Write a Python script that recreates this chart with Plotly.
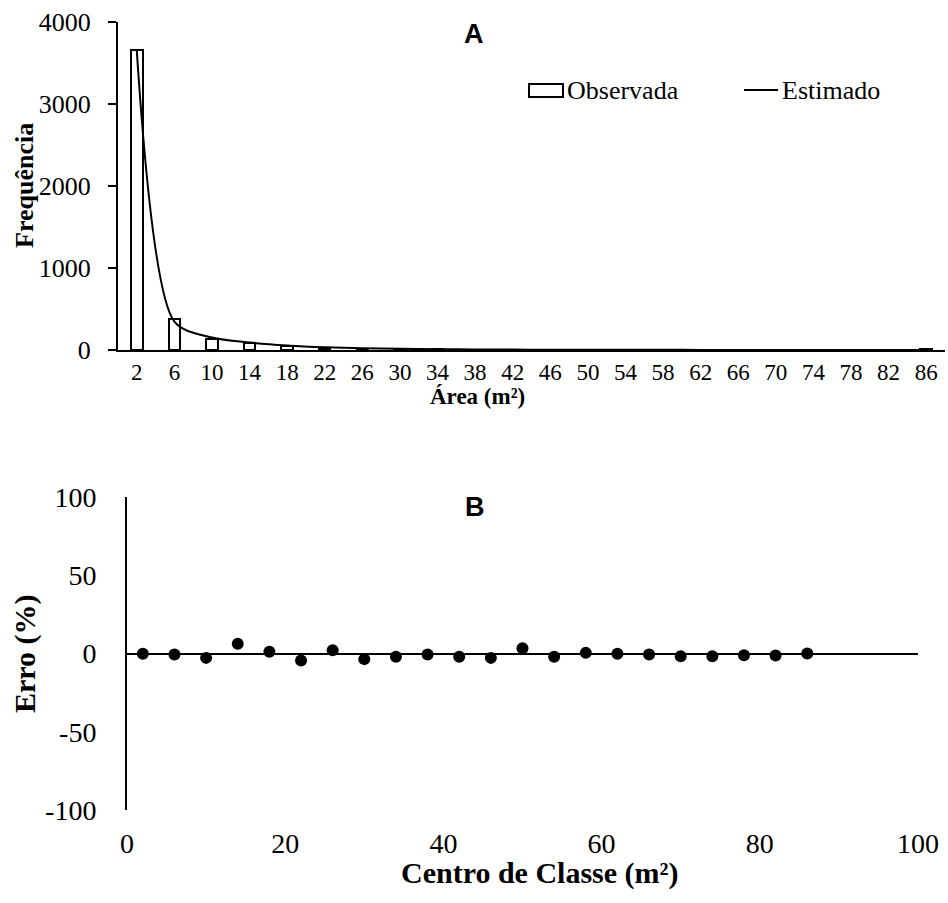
import plotly.graph_objects as go

# ---- data ----
classes = [2, 6, 10, 14, 18, 22, 26, 30, 34, 38, 42, 46, 50, 54, 58, 62, 66, 70, 74, 78, 82, 86]
tick_labels = [str(c) for c in classes]
observada = [3655, 375, 140, 87, 50, 25, 15, 10, 7, 5, 4, 3, 3, 2, 2, 2, 2, 1, 1, 1, 1, 15]
estimado = [3650, 345, 152, 92, 55, 33, 21, 14, 10, 7, 5, 4, 3, 2.5, 2, 1.5, 1.2, 1, 1, 0.8, 0.6, 0.5]
erro = [-0.2, -0.6, -2.8, 6.2, 1.1, -4.5, 2.1, -3.6, -2.1, -0.7, -2.1, -2.8, 3.4,
        -2.1, 0.4, -0.2, -0.6, -1.7, -1.7, -1.1, -1.3, 0.0]
freq_ticks = [0, 1000, 2000, 3000, 4000]
erro_ticks = [-100, -50, 0, 50, 100]
erro_tick_labels = ["-100", "-50", "0", "50", "100"]
centro_ticks = [0, 20, 40, 60, 80, 100]

SERIF = "Times New Roman, Liberation Serif, serif"
SANS = "Liberation Sans, Arial, sans-serif"
W, H = 948, 903

def px_x(v):
    return v / W

def px_y(v):
    return 1 - v / H

fig = go.Figure()

fig.add_trace(go.Bar(
    x=classes, y=observada, width=1.22, name="Observada",
    marker=dict(color="white", line=dict(color="black", width=2)),
    xaxis="x", yaxis="y", showlegend=False,
))
fig.add_trace(go.Scatter(
    x=classes, y=estimado, mode="lines", name="Estimado",
    line=dict(color="black", width=2, shape="spline", smoothing=0.8),
    xaxis="x", yaxis="y", showlegend=False,
))
fig.add_trace(go.Scatter(
    x=classes, y=erro, mode="markers", name="Erro",
    marker=dict(color="black", size=12),
    xaxis="x2", yaxis="y2", showlegend=False,
))

fig.update_layout(
    width=W, height=H,
    margin=dict(l=0, r=0, t=0, b=0),
    paper_bgcolor="white", plot_bgcolor="white",
    font=dict(family=SERIF, color="black"),
    bargap=0,
    xaxis=dict(
        domain=[px_x(118), px_x(945)], anchor="y", automargin=False,
        range=[0, 88], tickmode="array", tickvals=classes, ticktext=tick_labels,
        showline=True, linecolor="black", linewidth=2, ticks="",
        showgrid=False, zeroline=False,
        tickfont=dict(family=SERIF, size=23, color="black"),
    ),
    yaxis=dict(
        domain=[px_y(350), px_y(22)], anchor="x", automargin=False,
        range=[0, 4000], tickvals=freq_ticks,
        showline=True, linecolor="black", linewidth=2,
        ticks="outside", ticklen=8, tickwidth=2, tickcolor="black",
        showgrid=False, zeroline=False, ticklabelstandoff=12,
        tickfont=dict(family=SERIF, size=26, color="black"),
    ),
    xaxis2=dict(
        domain=[px_x(127), px_x(918)], anchor="y2", automargin=False,
        range=[0, 100], tickvals=centro_ticks,
        showline=False, ticks="", showgrid=False, zeroline=False,
        ticklabelstandoff=14,
        tickfont=dict(family=SERIF, size=28, color="black"),
    ),
    yaxis2=dict(
        domain=[px_y(810), px_y(497)], anchor="x2", automargin=False,
        range=[-100, 100], tickvals=erro_ticks, ticktext=erro_tick_labels,
        showline=True, linecolor="black", linewidth=2, ticks="",
        showgrid=False, zeroline=True, zerolinecolor="black", zerolinewidth=2,
        ticklabelstandoff=23,
        tickfont=dict(family=SERIF, size=28, color="black"),
    ),
)

def label(x, y, text, size, family=SERIF, angle=0, xanchor="center"):
    fig.add_annotation(x=px_x(x), y=px_y(y), xref="paper", yref="paper", text=text,
                       showarrow=False, textangle=angle, xanchor=xanchor, yanchor="middle",
                       font=dict(family=family, size=size, color="black"))

# axis titles
label(478, 396, "<b>Área (m²)</b>", 23)
label(24, 186, "<b>Frequência</b>", 26, angle=-90)
label(540, 873, "<b>Centro de Classe (m²)</b>", 30)
label(25, 654, "<b>Erro (%)</b>", 30, angle=-90)

# panel labels
label(474, 34, "<b>A</b>", 27, family=SANS)
label(475, 507, "<b>B</b>", 27, family=SANS)

# custom legend
fig.add_shape(type="rect", xref="paper", yref="paper",
              x0=px_x(529), x1=px_x(563), y0=px_y(97), y1=px_y(84),
              line=dict(color="black", width=2), fillcolor="white")
label(565, 91, "Observada", 26, xanchor="left")
fig.add_shape(type="line", xref="paper", yref="paper",
              x0=px_x(744), x1=px_x(778), y0=px_y(90), y1=px_y(90),
              line=dict(color="black", width=2))
label(780, 91, "Estimado", 26, xanchor="left")

fig.write_html("out.html")
